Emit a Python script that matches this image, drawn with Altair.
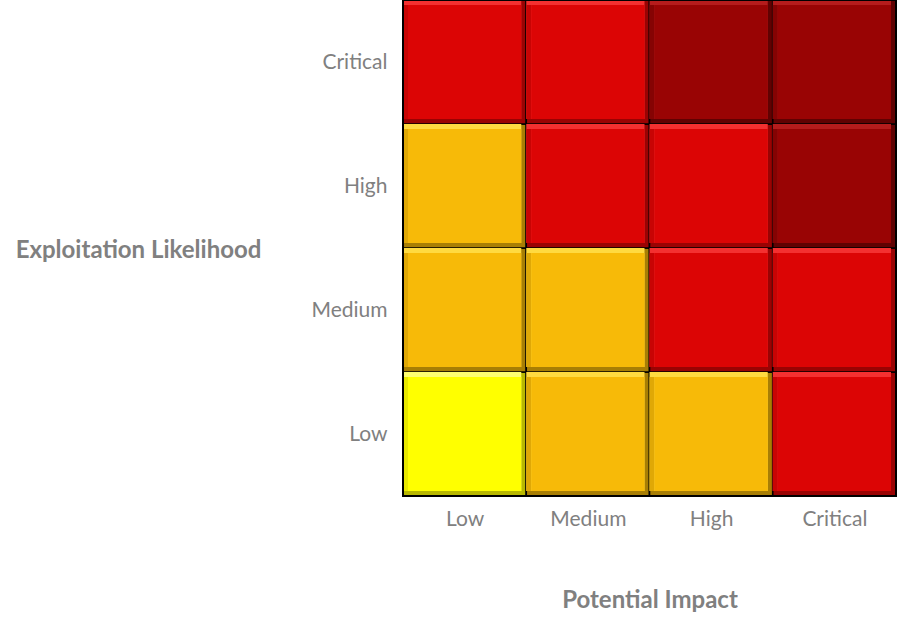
import altair as alt
import pandas as pd

# Risk matrix: rows are exploitation likelihood (bottom to top), columns potential impact
impact_levels = ["Low", "Medium", "High", "Critical"]
likelihood_levels = ["Low", "Medium", "High", "Critical"]
risk_rows = [
    ["Low", "Medium", "Medium", "High"],          # likelihood Low
    ["Medium", "Medium", "High", "High"],         # likelihood Medium
    ["Medium", "High", "High", "Critical"],       # likelihood High
    ["High", "High", "Critical", "Critical"],     # likelihood Critical
]

risk_names = ["Low", "Medium", "High", "Critical"]
base_colors = ["#FFFF00", "#F7BA08", "#DC0505", "#990404"]
top_colors = ["#FFFF70", "#FFDA40", "#F43030", "#B51C1C"]
left_colors = ["#E8E800", "#E0A806", "#C80404", "#850303"]
dark_colors = ["#B8B800", "#A87E04", "#9A0303", "#600202"]

records = []
for r, row in enumerate(risk_rows):
    for c, risk in enumerate(row):
        records.append({"col": c, "row": r, "risk": risk})
df = pd.DataFrame(records)

FONT = "Lato"
GREY = "#808080"
BEVEL = 5

base = alt.Chart(df).transform_calculate(
    col2="datum.col + 1", row2="datum.row + 1"
)

x_enc = alt.X(
    "col:Q",
    scale=alt.Scale(domain=[0, 4], nice=False, zero=False),
    axis=alt.Axis(
        values=[0.5, 1.5, 2.5, 3.5],
        labelExpr="['Low','Medium','High','Critical'][floor(datum.value)]",
        ticks=False, domain=False, grid=False,
        labelFont=FONT, labelFontSize=21, labelColor=GREY, labelPadding=12,
        title="Potential Impact", titleFont=FONT, titleFontSize=24,
        titleFontWeight="bold", titleColor=GREY, titleY=104,
        titleBaseline="middle",
    ),
)
y_enc = alt.Y(
    "row2:Q",
    scale=alt.Scale(domain=[0, 4], nice=False, zero=False),
    axis=alt.Axis(
        values=[0.5, 1.5, 2.5, 3.5],
        labelExpr="['Low','Medium','High','Critical'][floor(datum.value)]",
        ticks=False, domain=False, grid=False,
        labelFont=FONT, labelFontSize=21, labelColor=GREY, labelPadding=16,
        title="Exploitation Likelihood", titleFont=FONT, titleFontSize=24,
        titleFontWeight="bold", titleColor=GREY, titleAngle=0,
        titleAlign="center", titleBaseline="middle", titleX=-265, titleY=250,
    ),
)


def shade(colors):
    return alt.Color(
        "risk:N",
        scale=alt.Scale(domain=risk_names, range=colors),
        legend=None,
    )


# shadow (bottom/right bevel) with black cell outline
shadow = base.mark_rect(stroke="#000000", strokeWidth=1.6).encode(
    x=x_enc, x2="col2:Q", y=y_enc, y2="row:Q", color=shade(dark_colors)
)
# highlight along the top edge
highlight = base.mark_rect(x2Offset=-BEVEL, y2Offset=-BEVEL).encode(
    x="col:Q", x2="col2:Q", y="row2:Q", y2="row:Q", color=shade(top_colors)
)
# softer strip along the left edge
left_edge = base.mark_rect(
    x2Offset=BEVEL, yOffset=BEVEL, y2Offset=-BEVEL
).encode(
    x="col:Q", x2="col:Q", y="row2:Q", y2="row:Q", color=shade(left_colors)
)
# face of each tile
face = base.mark_rect(
    xOffset=BEVEL, x2Offset=-BEVEL, yOffset=BEVEL, y2Offset=-BEVEL
).encode(
    x="col:Q", x2="col2:Q", y="row2:Q", y2="row:Q", color=shade(base_colors)
)
# outer frame
frame = alt.Chart(pd.DataFrame({"a": [0]})).mark_rect(
    fill=None, stroke="#000000", strokeWidth=2
).encode(x=alt.value(0), x2=alt.value(493), y=alt.value(0), y2=alt.value(496))

chart = (
    alt.layer(shadow, highlight, left_edge, face, frame)
    .resolve_scale(color="independent")
    .properties(
        width=493,
        height=496,
        autosize=alt.AutoSizeParams(type="none"),
        padding={"left": 403, "top": 0, "right": 4, "bottom": 135},
        background="#FFFFFF",
    )
    .configure_view(stroke=None)
)

chart.save("out.html", embed_options={"renderer": "svg", "actions": False})
